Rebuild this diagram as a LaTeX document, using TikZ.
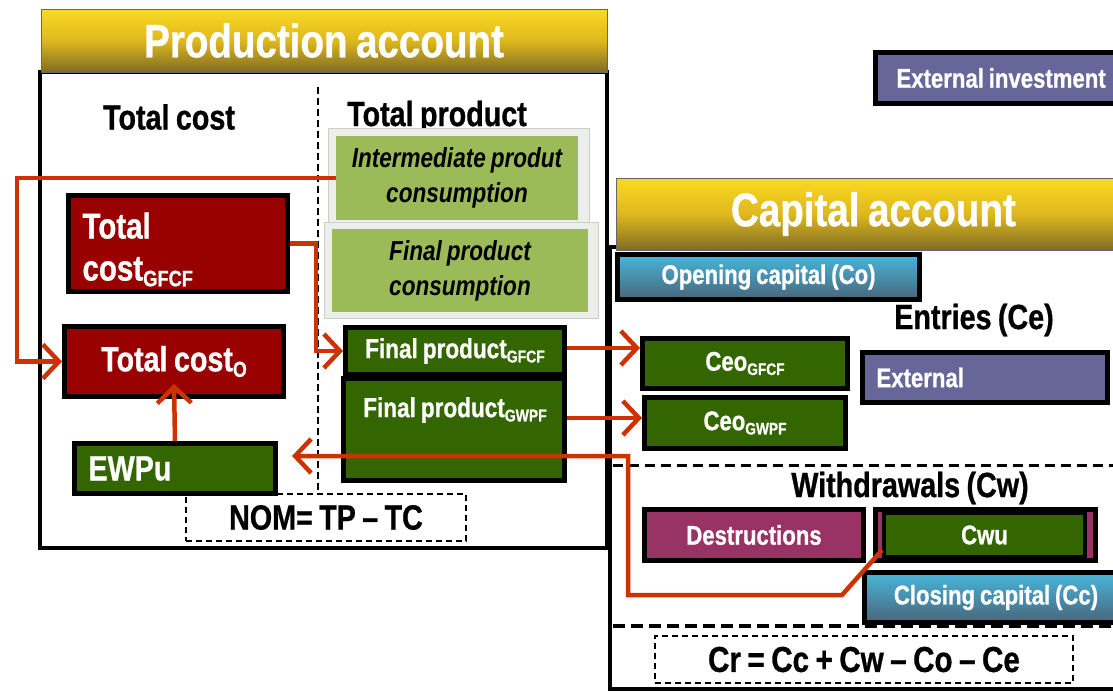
\documentclass[tikz,border=0pt]{standalone}
\usepackage{fontspec}
\setmainfont{Liberation Sans}[FakeStretch=0.82, WordSpace=0.8, BoldFeatures={FakeBold=0.8}]
\usetikzlibrary{arrows.meta}

\definecolor{hdtop}{RGB}{252,217,34}
\definecolor{hdmid}{RGB}{222,184,30}
\definecolor{hdbot}{RGB}{128,108,36}
\definecolor{costred}{RGB}{153,0,0}
\definecolor{prodgreen}{RGB}{51,102,0}
\definecolor{softgreen}{RGB}{155,187,89}
\definecolor{extpurple}{RGB}{102,102,153}
\definecolor{destpink}{RGB}{153,51,102}
\definecolor{captop}{RGB}{72,182,220}
\definecolor{capbot}{RGB}{72,102,122}
\definecolor{flowred}{RGB}{204,51,0}
\definecolor{rimgray}{RGB}{236,238,233}

\newcommand\fsz[2]{\fontsize{#1}{#2}\selectfont}
\newcommand\lowsub[1]{\raisebox{-0.3ex}{\scalebox{0.62}{#1}}}

\begin{document}
\begin{tikzpicture}[x=1pt,y=-1pt,
  header/.style={draw=black!60, line width=0.8pt, top color=hdtop, bottom color=hdbot,
    middle color=hdmid, text=white, font=\fsz{47}{47}\bfseries, inner sep=0pt},
  heading/.style={font=\fsz{35}{35}\bfseries, text=black, inner sep=0pt},
  box/.style={draw=black, line width=5pt, inner sep=0pt, font=\fsz{27}{27}\bfseries, text=white},
  costbox/.style={box, fill=costred, font=\fsz{36}{42}\bfseries},
  greenbox/.style={box, fill=prodgreen},
  purplebox/.style={box, fill=extpurple},
  pinkbox/.style={box, fill=destpink},
  capbox/.style={box, top color=captop, bottom color=capbot},
  rim/.style={fill=rimgray, draw=gray!40, line width=0.6pt, inner sep=0pt},
  softbox/.style={fill=softgreen, inner sep=0pt, align=center,
    font=\fsz{27.5}{35}\bfseries\itshape, text=black},
  dashbox/.style={draw=black, line width=1.2pt, dash pattern=on 6pt off 4pt,
    inner sep=0pt, font=\fsz{35}{35}\bfseries, text=black},
  flow/.style={draw=flowred, line width=4.5pt,
    -{Straight Barb[length=16pt,width=34pt]}}
]
\useasboundingbox (0,0) rectangle (1113,691);

% ---------- production account ----------
\draw[line width=4pt] (40,72) rectangle (607,548);
\node[header, minimum width=566pt, minimum height=63pt] (prodhead) at (324,40.5) {Production account};
\draw[line width=1.6pt, dash pattern=on 7pt off 4pt] (318,87) -- (318,494);

\node[heading] (tclabel) at (169,117) {Total cost};
\node[heading] (tplabel) at (437,117) {Total product};

\node[rim, minimum width=261pt, minimum height=96pt] (ipcrim) at (458.5,176) {};
\node[softbox, minimum width=242pt, minimum height=84pt] (ipc) at (457,178)
  {Intermediate produt\\consumption};
\node[rim, minimum width=274pt, minimum height=96pt] (fpcrim) at (461,270) {};
\node[softbox, minimum width=256pt, minimum height=83pt] (fpc) at (460,270.5)
  {Final product\\consumption};

\node[costbox, minimum width=219pt, minimum height=96pt, inner xsep=14pt,
  text width=191pt, align=left] (tcg) at (178,243.5) {\rule{0pt}{38pt}Total\\cost\lowsub{GFCF}};
\node[costbox, minimum width=219pt, minimum height=70pt, font=\fsz{35}{35}\bfseries]
  (tco) at (174,361.5) {Total cost\lowsub{O}};
\node[greenbox, minimum width=201pt, minimum height=50pt, inner xsep=14pt,
  text width=173pt, align=left, font=\fsz{35}{35}\bfseries] (ewpu) at (175,468.5) {EWPu};

\node[greenbox, minimum width=219pt, minimum height=47pt, font=\fsz{27.5}{27.5}\bfseries]
  (fpg) at (455,351) {Final product\lowsub{GFCF}};
\node[greenbox, minimum width=221pt, minimum height=102pt] (fpw) at (454,429.5) {};
\node[font=\fsz{27.5}{27.5}\bfseries, text=white, inner sep=0pt] (fpwtext) at (455,410)
  {Final product\lowsub{GWPF}};

\node[dashbox, minimum width=280pt, minimum height=47pt] (nom) at (326,517.5) {NOM= TP – TC};

% ---------- capital account ----------
\draw[line width=4pt] (610,247) rectangle (1140,689);
\node[header, minimum width=514pt, minimum height=72pt, anchor=west] (caphead)
  at (616,214) {Capital account};
\node[purplebox, minimum height=51pt, anchor=west, inner xsep=21pt] (extinv)
  at (873,78) {External investment};

\node[capbox, minimum width=302pt, minimum height=45pt] (opening) at (768.5,277)
  {Opening capital (Co)};
\node[heading] (entries) at (974,320) {Entries (Ce)};

\node[greenbox, minimum width=205pt, minimum height=50pt] (ceog) at (745,363.5)
  {Ceo\lowsub{GFCF}};
\node[greenbox, minimum width=201pt, minimum height=51pt] (ceow) at (745,423)
  {Ceo\lowsub{GWPF}};
\node[purplebox, minimum width=245pt, minimum height=50pt, inner xsep=14pt,
  text width=217pt, align=left] (ext) at (985,377.5) {External};

\draw[line width=3pt, dash pattern=on 10pt off 6pt] (613,465) -- (1113,465);
\node[heading] (withdraw) at (910,488) {Withdrawals (Cw)};

\node[pinkbox, minimum width=219pt, minimum height=51pt] (dest) at (754,535) {Destructions};
\node[pinkbox, minimum width=220pt, minimum height=51pt] (cwuframe) at (985.5,535) {};
\node[greenbox, line width=4pt, minimum width=201pt, minimum height=44pt] (cwu)
  at (984.5,535) {Cwu};

\node[capbox, minimum width=263pt, minimum height=50pt, anchor=west] (closing)
  at (862,597.5) {Closing capital (Cc)};

\draw[line width=4pt, dash pattern=on 12pt off 6pt] (613,626) -- (1113,626);
\node[dashbox, minimum width=418pt, minimum height=47pt, font=\fsz{36}{36}\bfseries]
  (cr) at (864,659.5) {Cr = Cc + Cw – Co – Ce};

% ---------- flows ----------
\coordinate (loopleft) at (17,178);
\draw[flow] (ipc.west) -- (loopleft) |- (tco.west);
\draw[flow] (tcg.east) -- ++(26,0) |- (fpg.west);
\draw[flow] ([yshift=3pt]fpg.east) -- ([yshift=3pt]fpg.east -| ceog.west);
\draw[flow] ([yshift=5pt]ceow.west -| fpw.east) -- ([yshift=5pt]ceow.west);
\draw[flow] (ewpu.north) -- ([yshift=15pt]tco.south);
\coordinate (dropleft) at (628,595);
\draw[flow] ([xshift=9pt,yshift=13pt]cwuframe.south west) -- (842,595) -- (dropleft)
  |- ([xshift=14pt,yshift=12.5pt]ewpu.east);
\end{tikzpicture}
\end{document}
